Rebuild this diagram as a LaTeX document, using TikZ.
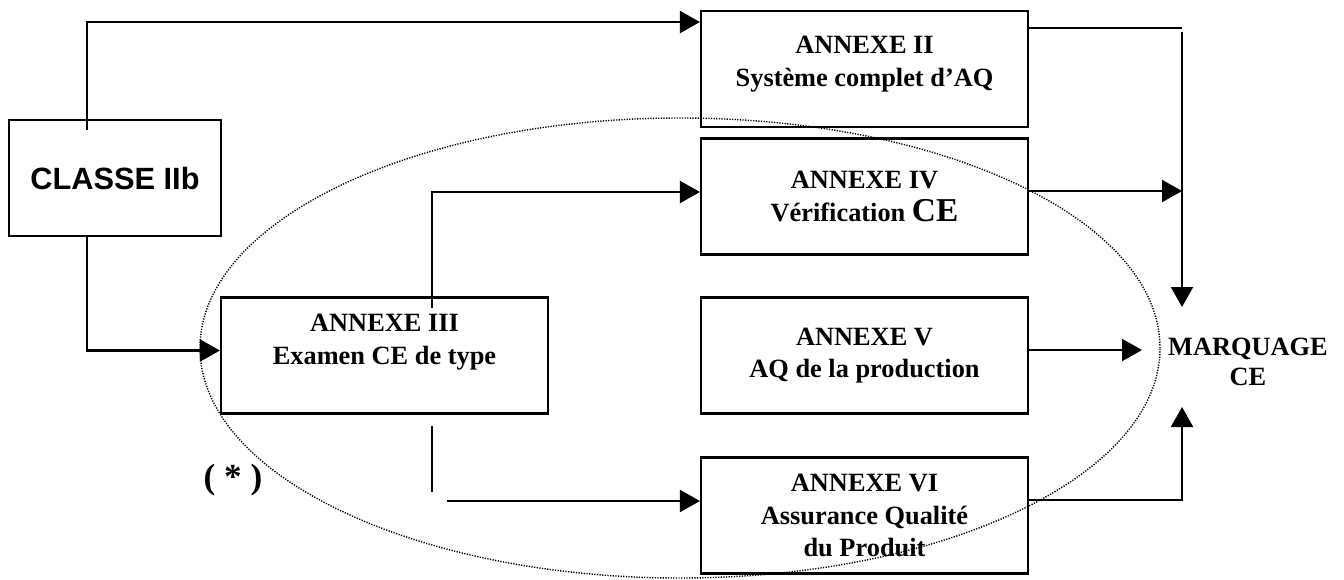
\documentclass[tikz,border=0pt]{standalone}
\usepackage{fontspec}
\setmainfont{Liberation Serif}
\newfontfamily\arialfont{Liberation Sans}
\usetikzlibrary{arrows.meta,calc}

\tikzset{
  annexe/.style={draw, line width=1.2pt, minimum width=65.4mm, minimum height=23.2mm,
    inner sep=0pt, align=center, font=\bfseries\fontsize{15}{18.5}\selectfont},
  fleche/.style={line width=1.2pt, -{Triangle[length=4mm,width=4.4mm]}},
  trait/.style={line width=1.2pt},
}

\begin{document}
\begin{tikzpicture}[x=0.2mm, y=-0.2mm]
  \useasboundingbox (0,0) rectangle (1344,579);
  % zone en pointille
  \draw[line width=0.8pt, dash pattern=on 0.7pt off 0.8pt] (680,348) ellipse [x radius=96mm, y radius=46mm];
  % boites
  \node[annexe, minimum width=42.4mm, font=\arialfont\bfseries\fontsize{17.5}{20}\selectfont] (classe) at (115,178) {CLASSE IIb};
  \node[annexe] (a2) at (864.5,69) {ANNEXE II\\Système complet d’AQ\\[-10pt]\mbox{}};
  \node[annexe] (a3) at (384.5,355.5) {ANNEXE III\\Examen CE de type\\\mbox{}};
  \node[annexe] (a4) at (864.5,196.5) {ANNEXE IV\\Vérification {\fontsize{19}{18.5}\selectfont CE}};
  \node[annexe] (a5) at (864.5,355.5) {ANNEXE V\\AQ de la production};
  \node[annexe] (a6) at (864.5,515.5) {ANNEXE VI\\Assurance Qualité\\du Produit};
  \node[align=center, font=\bfseries\fontsize{15}{17}\selectfont] (mq) at (1248,362) {MARQUAGE\\CE};
  \node[font=\bfseries\fontsize{20}{20}\selectfont] (etoile) at (233,480) {( * )};
  % fleches de gauche
  \coordinate (c1) at (87,130);
  \draw[fleche] (c1) |- ($(a2.west)+(0,-47)$);
  \draw[fleche] ($(classe.south)+(-28,0)$) |- ($(a3.west)+(0,-5)$);
  \coordinate (c2) at (432,308);
  \draw[fleche] (c2) |- ($(a4.west)+(0,-4.5)$);
  \coordinate (c3) at (432,426);
  \coordinate (c4) at (432,492);
  \draw[trait] (c3) -- (c4);
  \coordinate (c5) at (447,501);
  \draw[fleche] (c5) -- (c5 -| a6.west);
  % fleches vers le marquage
  \coordinate (b1) at (1182,28);
  \coordinate (b2) at (1182,32);
  \coordinate (b3) at (1182,307);
  \coordinate (b4) at (1182,407);
  \coordinate (m5) at (1142,350);
  \draw[trait] ($(a2.east)+(0,-41)$) -- (b1);
  \draw[fleche] (b2) -- (b3);
  \draw[fleche] ($(a4.east)+(0,-5.5)$) coordinate (p4) -- (p4 -| b1);
  \draw[fleche] ($(a5.east)+(0,-5.5)$) -- (m5);
  \draw[fleche] ($(a6.east)+(0,-15.5)$) -| (b4);
\end{tikzpicture}
\end{document}
